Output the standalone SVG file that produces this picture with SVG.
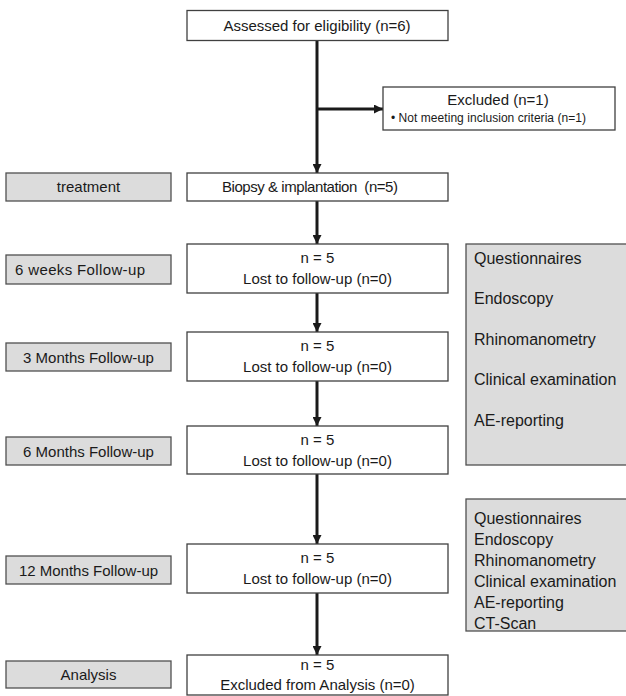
<svg xmlns="http://www.w3.org/2000/svg" width="626" height="696" viewBox="0 0 626 696">
<style>
  text { font-family: "Liberation Sans", Arial, sans-serif; fill: #1a1a1a; }
  .main { fill: #ffffff; stroke: #404040; stroke-width: 1.3; }
  .lab { fill: #dcdcdc; stroke: #505050; stroke-width: 1.3; }
  .t15 { font-size: 15px; }
  .t16 { font-size: 16px; }
  .c { text-anchor: middle; }
  .conn { stroke: #1a1a1a; stroke-width: 3; fill: none; }
</style>
<defs>
  <marker id="ah" viewBox="0 0 10 10" refX="10" refY="5" markerWidth="9" markerHeight="9" markerUnits="userSpaceOnUse" orient="auto">
    <path d="M0,0 L10,5 L0,10 Z" fill="#1a1a1a"/>
  </marker>
</defs>
<rect width="626" height="696" fill="#ffffff"/>

<g id="connectors">
  <path class="conn" d="M317,40 V173" marker-end="url(#ah)"/>
  <path class="conn" d="M317,109 H383" marker-end="url(#ah)"/>
  <path class="conn" d="M317,201 V244" marker-end="url(#ah)"/>
  <path class="conn" d="M317,293 V332" marker-end="url(#ah)"/>
  <path class="conn" d="M317,381 V426" marker-end="url(#ah)"/>
  <path class="conn" d="M317,474 V544" marker-end="url(#ah)"/>
  <path class="conn" d="M317,593 V655" marker-end="url(#ah)"/>
</g>

<g id="assessed">
  <rect class="main" x="187" y="10.5" width="261" height="30"/>
  <text class="t15 c" x="317" y="30.5">Assessed for eligibility (n=6)</text>
</g>

<g id="excluded">
  <rect class="main" x="383" y="87" width="232" height="43"/>
  <text class="t15 c" x="498" y="105">Excluded (n=1)</text>
  <text x="391" y="122" font-size="12" textLength="195">• Not meeting inclusion criteria (n=1)</text>
</g>

<g id="lab-treatment">
  <rect class="lab" x="6" y="173" width="165" height="28"/>
  <text class="t15 c" x="88.5" y="192">treatment</text>
</g>
<g id="biopsy">
  <rect class="main" x="187" y="173" width="261" height="28"/>
  <text class="t15" x="222" y="192" xml:space="preserve" textLength="176">Biopsy &amp; implantation  (n=5)</text>
</g>

<g id="lab-6weeks">
  <rect class="lab" x="6" y="255" width="165" height="29"/>
  <text class="t15" x="15" y="275" textLength="130">6 weeks Follow-up</text>
</g>
<g id="fu-6weeks">
  <rect class="main" x="187" y="244" width="261" height="49"/>
  <text class="t15 c" x="317.5" y="263">n = 5</text>
  <text class="t15 c" x="317.5" y="284">Lost to follow-up (n=0)</text>
</g>

<g id="lab-3months">
  <rect class="lab" x="6" y="343" width="165" height="28"/>
  <text class="t15 c" x="88.5" y="363">3 Months Follow-up</text>
</g>
<g id="fu-3months">
  <rect class="main" x="187" y="332" width="261" height="49"/>
  <text class="t15 c" x="317.5" y="351">n = 5</text>
  <text class="t15 c" x="317.5" y="372">Lost to follow-up (n=0)</text>
</g>

<g id="lab-6months">
  <rect class="lab" x="6" y="437" width="165" height="28"/>
  <text class="t15 c" x="88.5" y="457">6 Months Follow-up</text>
</g>
<g id="fu-6months">
  <rect class="main" x="187" y="426" width="261" height="48"/>
  <text class="t15 c" x="317.5" y="445">n = 5</text>
  <text class="t15 c" x="317.5" y="466">Lost to follow-up (n=0)</text>
</g>

<g id="lab-12months">
  <rect class="lab" x="6" y="556" width="165" height="28"/>
  <text class="t15 c" x="88.5" y="576">12 Months Follow-up</text>
</g>
<g id="fu-12months">
  <rect class="main" x="187" y="544" width="261" height="49"/>
  <text class="t15 c" x="317.5" y="563">n = 5</text>
  <text class="t15 c" x="317.5" y="584">Lost to follow-up (n=0)</text>
</g>

<g id="lab-analysis">
  <rect class="lab" x="6" y="661" width="165" height="27"/>
  <text class="t15 c" x="88.5" y="680">Analysis</text>
</g>
<g id="analysis">
  <rect class="main" x="187" y="655" width="261" height="40"/>
  <text class="t15 c" x="317.5" y="670">n = 5</text>
  <text class="t15 c" x="317.5" y="690">Excluded from Analysis (n=0)</text>
</g>

<g id="assess-1">
  <rect class="lab" x="466" y="244" width="170" height="221"/>
  <text class="t16" x="474" y="264">Questionnaires</text>
  <text class="t16" x="474" y="304">Endoscopy</text>
  <text class="t16" x="474" y="345">Rhinomanometry</text>
  <text class="t16" x="474" y="385">Clinical examination</text>
  <text class="t16" x="474" y="426">AE-reporting</text>
</g>

<g id="assess-2">
  <rect class="lab" x="466" y="499" width="170" height="132"/>
  <text class="t16" x="474" y="524">Questionnaires</text>
  <text class="t16" x="474" y="545">Endoscopy</text>
  <text class="t16" x="474" y="566">Rhinomanometry</text>
  <text class="t16" x="474" y="587">Clinical examination</text>
  <text class="t16" x="474" y="608">AE-reporting</text>
  <text class="t16" x="474" y="629">CT-Scan</text>
</g>
</svg>
